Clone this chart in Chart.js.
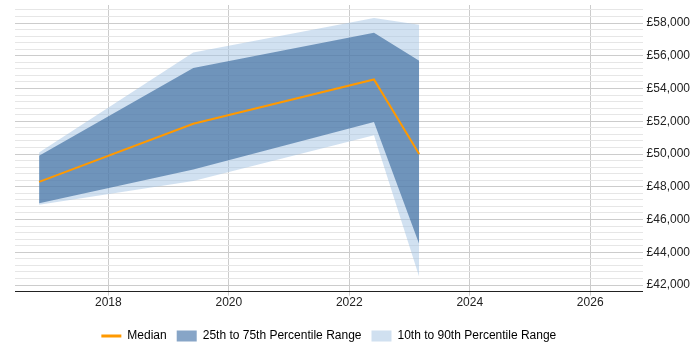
<!DOCTYPE html>
<html><head><meta charset="utf-8">
<script src="https://cdn.jsdelivr.net/npm/chart.js@4/dist/chart.umd.min.js"></script>
<style>html,body{margin:0;padding:0;background:#fff}#wrap{width:700px;height:350px;position:relative}</style>
</head><body><div id="wrap"><canvas id="c"></canvas></div>
<script>
const years = [2016.85, 2019.41, 2022.41, 2023.16];
const p10 = [46900, 48350, 51150, 42500];
const p25 = [47000, 49050, 51950, 44500];
const median = [48300, 51850, 54550, 50000];
const p75 = [49900, 55250, 57400, 55700];
const p90 = [50100, 56200, 58300, 57900];
const xTicks = [2018, 2020, 2022, 2024, 2026];
const yTickMin = 41600, yTickMax = 58800, yStep = 400, yLabelStep = 2000;
const seriesNames = ['Median', '25th to 75th Percentile Range', '10th to 90th Percentile Range'];

const pts = arr => arr.map((v, i) => ({x: years[i], y: v}));
const band = {borderWidth: 0, pointRadius: 0, tension: 0};

Chart.defaults.font.family = '"Liberation Sans", Arial, sans-serif';
Chart.defaults.font.size = 12;
Chart.defaults.color = '#222';

const legendPlacer = {
  id: 'legendPlacer',
  afterLayout(chart) {
    const l = chart.legend, ca = chart.chartArea;
    if (!l) return;
    l.left = ca.left; l.right = ca.right;
    const dy = 10;
    l.top += dy; l.bottom += dy;
  }
};

new Chart(document.getElementById('c'), {
  type: 'line',
  plugins: [legendPlacer],
  data: {
    datasets: [
      {label: seriesNames[0], data: pts(median), borderColor: '#ff9900', borderWidth: 2, pointRadius: 0, tension: 0, fill: false},
      Object.assign({label: seriesNames[1], data: pts(p75), backgroundColor: 'rgba(47,97,151,0.6)', fill: '+1'}, band),
      Object.assign({label: 'p25', data: pts(p25), fill: false}, band),
      Object.assign({label: seriesNames[2], data: pts(p90), backgroundColor: 'rgba(164,196,228,0.5)', fill: '+1'}, band),
      Object.assign({label: 'p10', data: pts(p10), fill: false}, band)
    ]
  },
  options: {
    animation: false,
    responsive: true,
    maintainAspectRatio: false,
    layout: {padding: {left: 15, top: 5, right: 6, bottom: 8}},
    plugins: {
      tooltip: {enabled: false},
      legend: {
        position: 'bottom',
        labels: {
          usePointStyle: true,
          pointStyleWidth: 20,
          boxHeight: 11,
          padding: 10,
          font: {size: 12},
          generateLabels: () => [
            {text: seriesNames[0], pointStyle: 'line', strokeStyle: '#ff9900', fillStyle: '#ff9900', lineWidth: 3, hidden: false, datasetIndex: 0},
            {text: seriesNames[1], pointStyle: 'rect', strokeStyle: 'rgb(135,165,199)', fillStyle: 'rgb(135,165,199)', lineWidth: 0, hidden: false, datasetIndex: 1},
            {text: seriesNames[2], pointStyle: 'rect', strokeStyle: 'rgb(208,224,240)', fillStyle: 'rgb(208,224,240)', lineWidth: 0, hidden: false, datasetIndex: 3}
          ]
        }
      }
    },
    scales: {
      x: {
        type: 'linear',
        min: 2016.45,
        max: 2026.87,
        afterBuildTicks: s => { s.ticks = xTicks.map(v => ({value: v})); },
        ticks: {padding: 0, callback: v => String(v), maxRotation: 0, autoSkip: false},
        grid: {color: '#cccccc', drawTicks: true, tickLength: 4},
        border: {color: '#222', width: 1}
      },
      y: {
        type: 'linear',
        position: 'right',
        min: 41600,
        max: 59100,
        afterBuildTicks: s => {
          const t = [];
          for (let v = yTickMin; v <= yTickMax; v += yStep) t.push({value: v});
          s.ticks = t;
        },
        afterFit: s => { s.paddingTop = 0; s.paddingBottom = 0; },
        ticks: {
          padding: 4,
          autoSkip: false,
          callback: v => (v % yLabelStep === 0) ? '£' + v.toLocaleString('en-GB') : ''
        },
        grid: {
          drawTicks: false,
          color: c => (c.tick && c.tick.value % yLabelStep === 0) ? '#cccccc' : '#e6e6e6'
        },
        border: {display: false}
      }
    }
  }
});
</script>
</body></html>
